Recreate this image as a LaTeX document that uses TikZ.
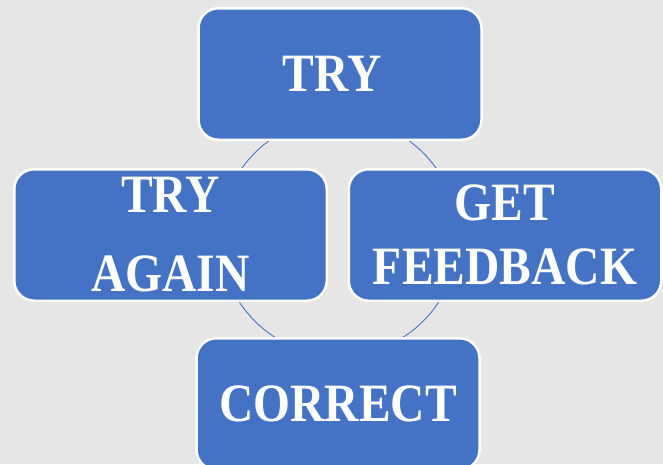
\documentclass[tikz,border=0pt]{standalone}
\usepackage{fontspec}
\newfontfamily\boxfont{Liberation Serif}[FakeStretch=0.88]
\definecolor{stepblue}{HTML}{4472C4}
\definecolor{pagegray}{HTML}{E7E6E6}
\begin{document}
\begin{tikzpicture}[x=1pt,y=-1pt,
        stage/.style={rectangle,rounded corners=20pt,draw=white,line width=2.5pt,
            fill=stepblue,text=white,align=center,inner sep=0pt,
            minimum width=283pt,minimum height=131.5pt,
            font=\boxfont\bfseries\fontsize{54}{64}\selectfont},
        wide/.style={stage,minimum width=312.5pt},
        ring/.style={draw=stepblue,line width=0.9pt}]
        % page and its margins
        \fill[pagegray] (0,0) rectangle (663,464);
        \clip (0,0) rectangle (663,464);
        \useasboundingbox (0,0) rectangle (663,464);

        % the ring behind the four boxes
        \coordinate (hub) at (339,237);
        \draw[ring] (hub) circle[radius=119pt];

        % four stages of the cycle
        \node[stage] (try) at (340,74) {TRY\hspace{16pt}};
        \node[wide] (feedback) at (505,235) {GET\\FEEDBACK};
        \node[stage] (correct) at (338,404) {CORRECT};
        \node[wide] (again) at (170.5,235) {TRY\\[15pt]AGAIN};
    \end{tikzpicture}
\end{document}
